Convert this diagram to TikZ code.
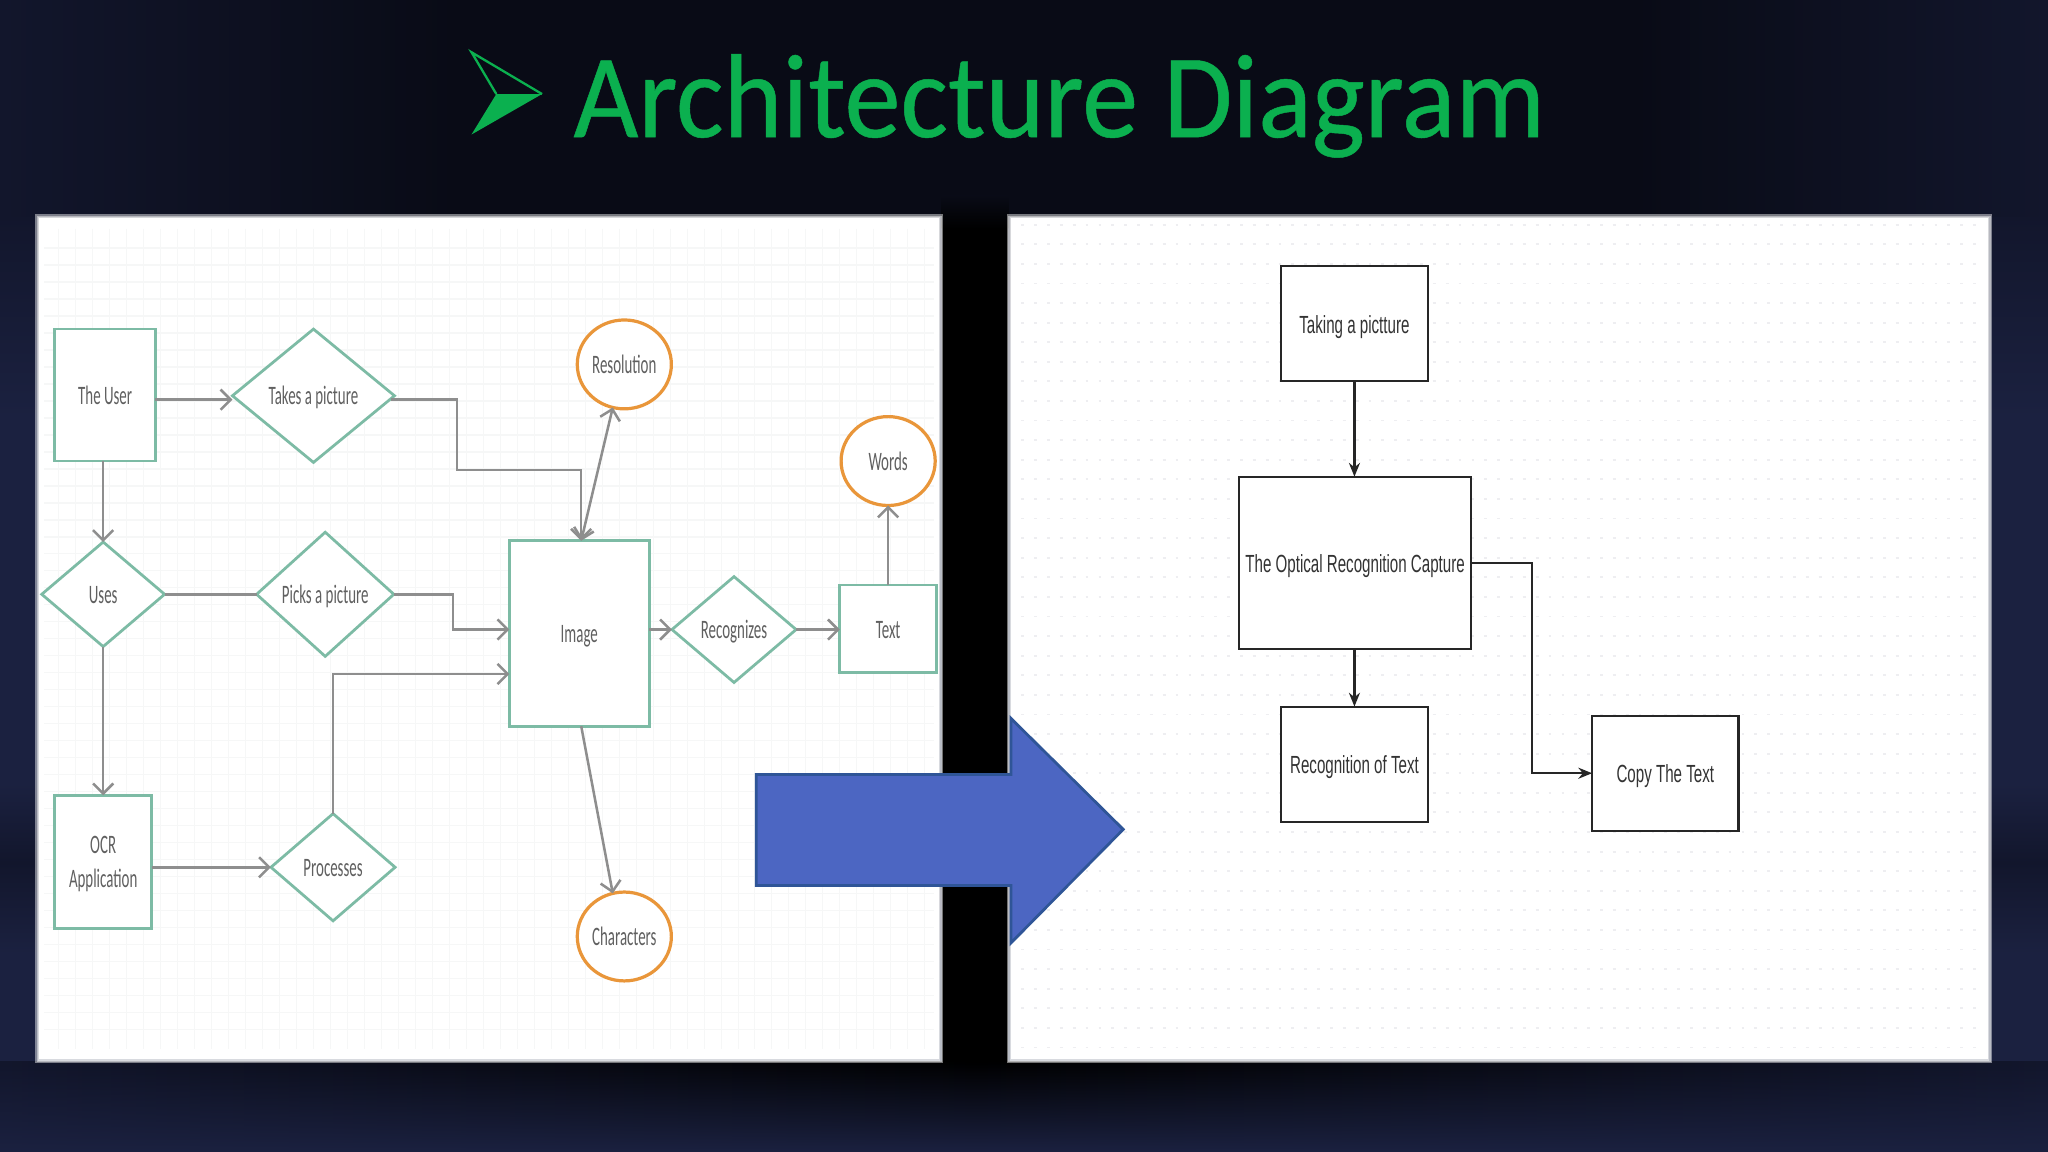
\documentclass[tikz,border=0pt]{standalone}
\usepackage{fontspec}
\setmainfont{Carlito}
\newfontfamily\titlefont[FakeStretch=0.94,FakeBold=0.4]{Carlito}
\newfontfamily\labelfont[FakeStretch=0.56]{Carlito}
\newfontfamily\boxfont[FakeStretch=0.61]{Liberation Sans}
\usetikzlibrary{shapes.geometric}
\usetikzlibrary{arrows.meta}
\usetikzlibrary{fadings}
\definecolor{navy}{HTML}{1B2140}
\definecolor{dusk}{HTML}{12162C}
\definecolor{nightsky}{HTML}{090B16}
\definecolor{titlegreen}{HTML}{0BB04F}
\definecolor{boxgreen}{HTML}{7DBBA5}
\definecolor{ringorange}{HTML}{E9963A}
\definecolor{wiregray}{HTML}{8E8E8E}
\definecolor{labelgray}{HTML}{606060}
\definecolor{arrowblue}{HTML}{4C66C2}
\definecolor{arrowedge}{HTML}{2F5597}
\definecolor{gridgray}{HTML}{F6F7F7}
\definecolor{dotgray}{HTML}{EEEEF1}
\tikzset{
	caps/.style={text height=4pt,text depth=0pt},
	greenbox/.style={draw=boxgreen,line width=0.6pt,fill=white,inner sep=0pt,outer sep=0pt,align=center,text=labelgray,font=\labelfont\fontsize{5.8}{7.4}\selectfont},
	greenrect/.style={greenbox,rectangle},
	greendiamond/.style={greenbox,diamond,caps},
	ring/.style={draw=ringorange,line width=0.7pt,fill=white,ellipse,inner sep=0pt,outer sep=0pt,text=labelgray,font=\labelfont\fontsize{5.8}{7.4}\selectfont,minimum width=0.72cm,minimum height=0.68cm},
	wire/.style={draw=wiregray,line width=0.55pt,-{Straight Barb[length=2.2pt,width=4.4pt]}},
	plainwire/.style={draw=wiregray,line width=0.55pt},
	bluebox/.style={draw=black!85,line width=0.45pt,fill=white,inner sep=0pt,outer sep=0pt,caps,font=\boxfont\fontsize{5.4}{6.5}\selectfont,text=black!80},
	flow/.style={draw=black!85,line width=0.5pt,-{Stealth[length=3pt,width=2.4pt]}}
}
\begin{document}
\begin{tikzpicture}[x=0.01cm,y=-0.01cm]
	\useasboundingbox (0,0) rectangle (1568,882);
	
	% Backdrop
	\fill[navy] (0,0) rectangle (1568,882);
	\shade[top color=dusk,bottom color=navy] (0,165) rectangle (1568,320);
	\fill[nightsky] (350,0) rectangle (1250,166);
	\shade[left color=dusk,right color=nightsky] (0,0) rectangle (350,166);
	\shade[left color=nightsky,right color=dusk] (1250,0) rectangle (1568,166);
	\shade[top color=navy,bottom color=dusk] (0,600) rectangle (1568,660);
	\shade[top color=dusk,bottom color=navy] (0,660) rectangle (1568,730);
	
	% Dark strip below the panels
	\shade[left color=dusk,right color=black] (0,813) rectangle (747,882);
	\shade[left color=black,right color=dusk] (747,813) rectangle (1568,882);
	\fill[navy,path fading=north] (0,813) rectangle (1568,882);
	
	% Black gap between the panels
	\fill[black] (721,175) rectangle (772,813);
	\shade[top color=nightsky,bottom color=black] (721,150) rectangle (772,175);
	
	% Panels with a soft rim
	\foreach \g in {1,0,-1}
	{
		\fill[white,opacity=0.45] (28-\g,165-\g) rectangle (721+\g,813+\g);
		\fill[white,opacity=0.45] (772-\g,165-\g) rectangle (1524+\g,813+\g);
	}
	\fill[white] (30,167) rectangle (719,811);
	\fill[white] (774,167) rectangle (1522,811);
	
	% Faint grid of the left panel
	\foreach \y in {190,203,...,800}
	{
		\draw[gridgray,line width=0.3pt] (34,\y) -- (715,\y);
	}
	\foreach \x in {45,58,...,710}
	{
		\draw[gridgray,line width=0.2pt] (\x,175) -- (\x,803);
	}
	
	% Faint dots of the right panel
	\foreach \y in {172,187,...,808}
	{
		\draw[dotgray,line width=0.4pt,dash pattern=on 0.6pt off 2.2pt] (782,\y) -- (1514,\y);
	}
	
	% Title
	\fill[titlegreen] (361,103) -- (380,72) -- (415,72) -- cycle;
	\draw[titlegreen,line width=0.5pt,line join=miter] (380,72) -- (361,40) -- (415,72);
	\node[text=titlegreen,font=\titlefont\fontsize{26}{30}\selectfont,inner sep=0pt,anchor=base] (title) at (811,105) {Architecture Diagram};
	
	% Left flow chart
	\node[greenrect,caps,minimum width=0.77cm,minimum height=1.01cm] (user) at (80.5,302.5) {The User};
	\node[greendiamond,minimum width=1.24cm,minimum height=1.02cm] (takes) at (240,303) {Takes a picture};
	\node[greendiamond,minimum width=0.94cm,minimum height=0.80cm] (uses) at (79,455) {Uses};
	\node[greendiamond,minimum width=1.05cm,minimum height=0.95cm] (picks) at (249,455) {Picks a picture};
	\node[greenrect,text depth=0pt,minimum width=0.74cm,minimum height=1.02cm] (ocr) at (79,660) {OCR\\Application};
	\node[greendiamond,minimum width=0.95cm,minimum height=0.82cm] (processes) at (255,664) {Processes};
	\node[greenrect,caps,minimum width=1.07cm,minimum height=1.42cm] (image) at (443.5,485) {Image};
	\node[greendiamond,minimum width=0.95cm,minimum height=0.81cm] (recognizes) at (562,482) {Recognizes};
	\node[greenrect,caps,minimum width=0.74cm,minimum height=0.67cm] (text) at (680,481.5) {Text};
	\node[ring,caps] (resolution) at (478,279) {Resolution};
	\node[ring,caps] (words) at (680,353) {Words};
	\node[ring,caps] (characters) at (478,717) {Characters};
	
	% Free ends on the boxes
	\coordinate (takesin) at (178,306);
	\coordinate (takesout) at (299,306);
	\coordinate (imagetop) at (445,414);
	\coordinate (imagebottom) at (445,556);
	\coordinate (imagepicks) at (390,482);
	\coordinate (imageprocesses) at (390,516);
	
	% Left connectors
	\draw[wire] (user.east |- takesin) -- (takesin);
	\draw[wire] (uses.north |- user.south) -- (uses.north);
	\draw[wire] (uses.south) -- (ocr.north);
	\draw[plainwire] (uses.east) -- (picks.west);
	\draw[wire] (ocr.east |- processes.west) -- (processes.west);
	\draw[wire] (takesout) -- (350,306) -- (350,360) -- (445,360) -- (imagetop);
	\draw[wire] (picks.east) -- (347,455) -- (347,482) -- (imagepicks);
	\draw[wire] (processes.north) -- (255,516) -- (imageprocesses);
	\draw[wire,{Straight Barb[length=2.2pt,width=4.4pt]}-{Straight Barb[length=2.2pt,width=4.4pt]}] (imagetop) -- (resolution.255);
	\draw[wire] (imagebottom) -- (characters.105);
	\draw[wire] (image.east |- recognizes.west) -- (recognizes.west);
	\draw[wire] (recognizes.east) -- (text.west |- recognizes.east);
	\draw[wire] (text.north) -- (words.south);
	
	% Right flow chart
	\node[bluebox,minimum width=1.12cm,minimum height=0.88cm] (taking) at (1037,248) {Taking a pictture};
	\node[bluebox,minimum width=1.77cm,minimum height=1.32cm] (capture) at (1037.5,431) {The Optical Recognition Capture};
	\node[bluebox,minimum width=1.12cm,minimum height=0.88cm] (recognition) at (1037,585) {Recognition of Text};
	\node[bluebox,minimum width=1.12cm,minimum height=0.88cm] (copy) at (1275,592) {Copy The Text};
	
	% Right connectors
	\draw[flow] (taking.south) -- (taking.south |- capture.north);
	\draw[flow] (taking.south |- capture.south) -- (taking.south |- recognition.north);
	\draw[flow] (capture.east) -- (1173,431) -- (1173,592) -- (copy.west);
	
	% Big arrow
	\fill[arrowblue,draw=arrowedge,line width=0.6pt] (579,593) -- (774,593) -- (774,550) -- (860,635) -- (774,722) -- (774,678) -- (579,678) -- cycle;
\end{tikzpicture}
\end{document}
